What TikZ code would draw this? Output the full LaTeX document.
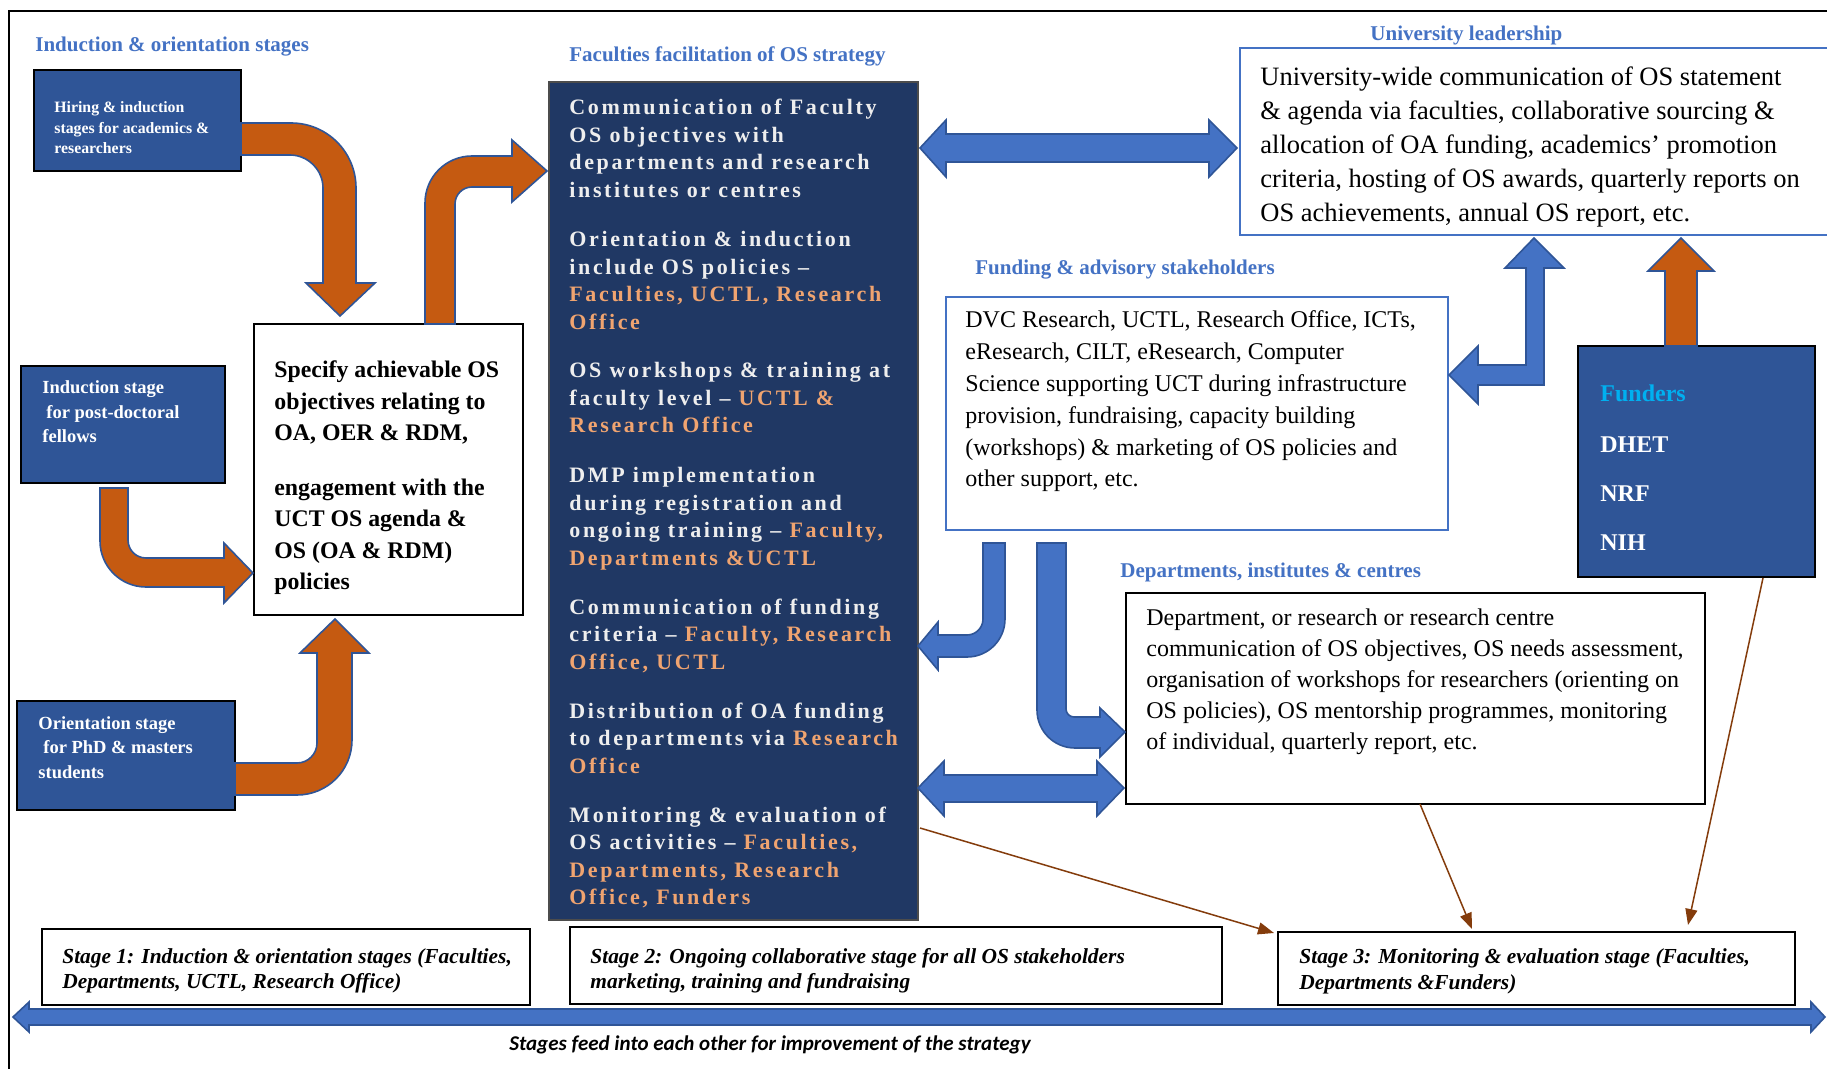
\documentclass[tikz,border=0pt]{standalone}
\usepackage{fontspec}
\setmainfont{Liberation Serif}
\newfontfamily\capfont{Carlito}
\usetikzlibrary{arrows.meta,fit}
\definecolor{headblue}{HTML}{4472C4}
\definecolor{boxblue}{HTML}{2F5597}
\definecolor{navy}{HTML}{203864}
\definecolor{orng}{HTML}{C55A11}
\definecolor{peach}{RGB}{240,164,112}
\definecolor{brn}{HTML}{843C0C}
\definecolor{cyanf}{HTML}{00B0F0}
\definecolor{lightw}{RGB}{238,238,238}
\newcommand\fs[2]{\fontsize{#1}{#2}\selectfont}
\newcommand\pc[1]{\textcolor{peach}{#1}}
\tikzset{
  heading/.style={anchor=base west, inner sep=0pt, text=headblue, font=\bfseries\fs{10.5}{12}},
  bluebox/.style={draw=black, line width=0.7pt, fill=boxblue, inner sep=0pt},
  plainbox/.style={draw=black, line width=0.7pt, fill=white, inner sep=0pt},
  linebox/.style={draw=headblue, line width=0.7pt, fill=white, inner sep=0pt},
  txt/.style={anchor=base west, inner sep=0pt, align=left},
  whitetxt/.style={txt, text=white, font=\bfseries\fs{7.9}{10.25}},
  stagetxt/.style={txt, text=black, font=\bfseries\itshape\fs{10.7}{12.6}},
  darktxt/.style={txt, text=lightw, font=\bfseries\fs{11}{13.75}\addfontfeature{LetterSpace=12}},
  bodytxt/.style={txt, text=black},
  oarrow/.style={fill=orng, draw=boxblue, line width=0.8pt, line join=miter},
  barrow/.style={fill=headblue, draw=boxblue, line width=0.8pt, line join=miter},
  thinarrow/.style={draw=brn, line width=0.75pt, -{Triangle[length=8pt,width=6pt]}}
}
\begin{document}
\begin{tikzpicture}[x=0.5pt,y=-0.5pt]
\useasboundingbox (0,0) rectangle (1827,1069);
\fill[white] (0,0) rectangle (1827,1069);
% frame
\draw[line width=1.25pt] (1827,11) -- (9,11) -- (9,1069);

% headings
\node[heading] (h1) at (35,52) {Induction \& orientation stages};
\node[heading] (h2) at (569,62) {Faculties facilitation of OS strategy};
\node[heading] (h3) at (1370,41) {University leadership};
\node[heading] (h4) at (975,275) {Funding \& advisory stakeholders};
\node[heading] (h5) at (1120,578) {Departments, institutes \& centres};

% left blue boxes (text nodes anchored at the baseline of their last line)
\node[bluebox, fit={(34,70) (241,171)}] (hire) {};
\node[whitetxt] (hiret) at (54,154) {Hiring \& induction\\stages for academics \&\\researchers};
\node[bluebox, fit={(21,366) (225,483)}] (ind) {};
\node[whitetxt, font=\bfseries\fs{9.25}{12.25}] (indt) at (42,443) {Induction stage\\\hspace{2pt}for post-doctoral\\fellows};
\node[bluebox, fit={(17,701) (235,810)}] (ori) {};
\node[whitetxt, font=\bfseries\fs{9.25}{12.25}] (orit) at (38,778) {Orientation stage\\\hspace{2.5pt}for PhD \& masters\\students};

% specify box
\node[plainbox, fit={(254,324) (523,615)}] (spec) {};
\node[bodytxt, font=\bfseries\fs{11.9}{15.75}] (spect1) at (274,441) {Specify achievable OS\\objectives relating to\\OA, OER \& RDM,};
\node[bodytxt, font=\bfseries\fs{11.9}{15.75}] (spect2) at (274,589.5) {engagement with the\\UCT OS agenda \&\\OS (OA \& RDM)\\policies};

% dark central box
\node[draw=black!70, line width=0.7pt, fill=navy, inner sep=0pt, fit={(549,82) (918,920)}] (dark) {};
\node[darktxt] (d1) at (569,197.5) {Communication of Faculty\\OS objectives with\\departments and research\\institutes or centres};
\node[darktxt] (d2) at (569,329.5) {Orientation \& induction\\include OS policies –\\\pc{Faculties, UCTL, Research}\\\pc{Office}};
\node[darktxt] (d3) at (569,433) {OS workshops \& training at\\faculty level – \pc{UCTL \&}\\\pc{Research Office}};
\node[darktxt] (d4) at (569,565.5) {DMP implementation\\during registration and\\ongoing training – \pc{Faculty,}\\\pc{Departments \&UCTL}};
\node[darktxt] (d5) at (569,669) {Communication of funding\\criteria – \pc{Faculty, Research}\\\pc{Office, UCTL}};
\node[darktxt] (d6) at (569,773) {Distribution of OA funding\\to departments via \pc{Research}\\\pc{Office}};
\node[darktxt] (d7) at (569,904.5) {Monitoring \& evaluation of\\OS activities – \pc{Faculties,}\\\pc{Departments, Research}\\\pc{Office, Funders}};

% right boxes
\node[linebox, fit={(1240,48) (1830,235)}] (univ) {};
\node[bodytxt, font=\fs{13.25}{17}] (univt) at (1260,222) {University-wide communication of OS statement\\\& agenda via faculties, collaborative sourcing \&\\allocation of OA funding, academics’ promotion\\criteria, hosting of OS awards, quarterly reports on\\OS achievements, annual OS report, etc.};
\node[linebox, fit={(946,297) (1448,530)}] (fund) {};
\node[bodytxt, font=\fs{12}{15.9}] (fundt) at (965,487) {DVC Research, UCTL, Research Office, ICTs,\\eResearch, CILT, eResearch, Computer\\Science supporting UCT during infrastructure\\provision, fundraising, capacity building\\(workshops) \& marketing of OS policies and\\other support, etc.};
\node[bluebox, fit={(1578,346) (1815,577)}] (funders) {};
\node[txt, text=cyanf, font=\bfseries\fs{12}{14}] (fundt1) at (1600,402) {Funders};
\node[txt, text=white, font=\bfseries\fs{12}{24.5}] (fundt2) at (1600,551) {DHET\\NRF\\NIH};
\node[plainbox, fit={(1126,593) (1705,804)}] (dept) {};
\node[bodytxt, font=\fs{12}{15.6}] (deptt) at (1146,749.8) {Department, or research or research centre\\communication of OS objectives, OS needs assessment,\\organisation of workshops for researchers (orienting on\\OS policies), OS mentorship programmes, monitoring\\of individual, quarterly report, etc.};

% stage boxes
\node[plainbox, fit={(42,929) (530,1005)}] (s1) {};
\node[stagetxt] (s1t) at (62,988.2) {Stage 1: Induction \& orientation stages (Faculties,\\Departments, UCTL, Research Office)};
\node[plainbox, fit={(570,927) (1222,1004)}] (s2) {};
\node[stagetxt] (s2t) at (590,988.2) {Stage 2: Ongoing collaborative stage for all OS stakeholders\\marketing, training and fundraising};
\node[plainbox, fit={(1278,932) (1795,1005)}] (s3) {};
\node[stagetxt, font=\bfseries\itshape\fs{10.7}{13}] (s3t) at (1299,989) {Stage 3: Monitoring \& evaluation stage (Faculties,\\Departments \&Funders)};

% orange arrows
\draw[oarrow] (241,123) -- (291,123) .. controls (327,123) and (356,152) .. (356,188) -- (356,283) -- (375,283) -- (340,316) -- (306,283) -- (323,283) -- (323,188) .. controls (323,170) and (308,155) .. (290,155) -- (241,155) -- cycle;
\draw[oarrow] (425,324) -- (425,203) .. controls (425,177) and (446,156) .. (472,156) -- (512,156) -- (512,140) -- (547,171) -- (512,202) -- (512,187) -- (472,187) .. controls (462.6,187) and (455,194.6) .. (455,204) -- (455,324) -- cycle;
\draw[oarrow] (100,488) -- (128,488) -- (128,540) .. controls (128,550) and (136,558) .. (146,558) -- (224,558) -- (224,543) -- (253,573) -- (224,603) -- (224,587) -- (146,587) .. controls (120.6,587) and (100,566.4) .. (100,541) -- cycle;
\draw[oarrow] (235,763) -- (297,763) .. controls (308,763) and (317,754) .. (317,743) -- (317,653) -- (300,653) -- (335,619) -- (369,653) -- (352,653) -- (352,740) .. controls (352,770.4) and (327.4,795) .. (297,795) -- (235,795) -- cycle;
\draw[oarrow] (1681,238) -- (1714,271) -- (1697,271) -- (1697,346) -- (1665,346) -- (1665,271) -- (1648,271) -- cycle;

% blue arrows
\draw[barrow] (920,148) -- (946,120) -- (946,134) -- (1209,134) -- (1209,120) -- (1237,148) -- (1209,177) -- (1209,162) -- (946,162) -- (946,177) -- cycle;
\draw[barrow] (1534,238) -- (1564,268) -- (1544,268) -- (1544,385) -- (1478,385) -- (1478,404) -- (1449,375) -- (1478,346) -- (1478,365) -- (1526,365) -- (1526,268) -- (1505,268) -- cycle;
\draw[barrow] (983,543) -- (1005,543) -- (1005,619) .. controls (1005,640) and (988,657) .. (967,657) -- (938,657) -- (938,670) -- (918,646) -- (938,622) -- (938,635) -- (967,635) .. controls (975.8,635) and (983,627.8) .. (983,619) -- cycle;
\draw[barrow] (1037,543) -- (1066,543) -- (1066,709) .. controls (1066,713.4) and (1069.6,717) .. (1074,717) -- (1100,717) -- (1100,708) -- (1125,732) -- (1100,757) -- (1100,748) -- (1075,748) .. controls (1054,748) and (1037,731) .. (1037,710) -- cycle;
\draw[barrow] (918,788) -- (944,761) -- (944,775) -- (1097,775) -- (1097,761) -- (1124,788) -- (1097,816) -- (1097,802) -- (944,802) -- (944,816) -- cycle;
\draw[barrow] (13,1017) -- (29,1002) -- (29,1009) -- (1811,1009) -- (1811,1002) -- (1825,1017) -- (1811,1032) -- (1811,1025) -- (29,1025) -- (29,1032) -- cycle;

% thin brown connectors
\coordinate (a1) at (920,828);
\coordinate (b1) at (1274,933);
\coordinate (a2) at (1420,804);
\coordinate (b2) at (1472,929);
\coordinate (a3) at (1763,578);
\coordinate (b3) at (1688,925);
\draw[thinarrow] (a1) -- (b1);
\draw[thinarrow] (a2) -- (b2);
\draw[thinarrow] (a3) -- (b3);

% caption
\node[anchor=base, inner sep=0pt, font=\capfont\bfseries\itshape\fs{10.5}{12}] (cap) at (770,1050) {Stages feed into each other for improvement of the strategy};
\end{tikzpicture}
\end{document}
